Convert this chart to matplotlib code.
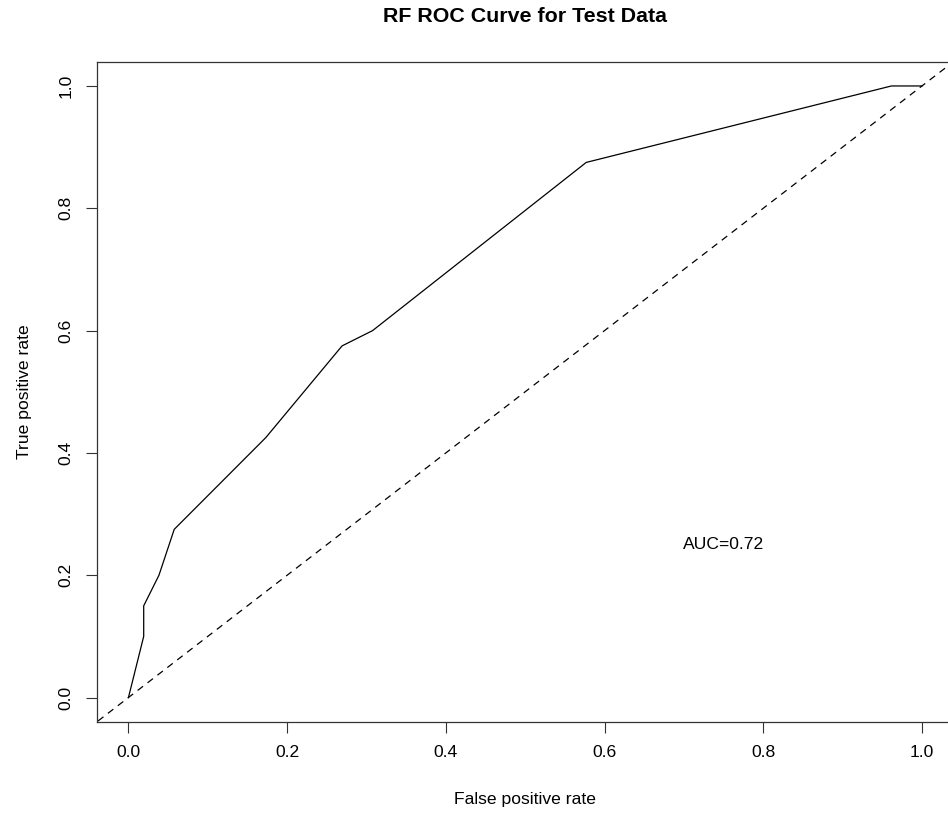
import matplotlib
matplotlib.use("Agg")
import matplotlib.pyplot as plt

# ROC curve vertices (false positive rate, true positive rate)
fpr = [0.0, 1/52, 1/52, 2/52, 3/52, 9/52, 14/52, 16/52, 30/52, 50/52, 1.0]
tpr = [0.0, 0.100, 0.150, 0.200, 0.275, 0.425, 0.575, 0.600, 0.875, 1.000, 1.000]
auc_label = "AUC=0.72"
ticks = [0.0, 0.2, 0.4, 0.6, 0.8, 1.0]
tick_labels = ["0.0", "0.2", "0.4", "0.6", "0.8", "1.0"]

plt.rcParams["font.family"] = ["Liberation Sans", "DejaVu Sans"]
FS = 12.6

fig = plt.figure(figsize=(9.48, 8.16), dpi=100)
ax = fig.add_axes([96.7 / 948, (816 - 722) / 816, 857 / 948, 660.5 / 816])

ax.plot(fpr, tpr, color="black", lw=0.9)
# reference diagonal, like abline(0, 1, lty=2)
ax.plot([-0.2, 1.2], [-0.2, 1.2], color="black", lw=0.9, ls=(0, (5.5, 4.5)))
ax.text(0.75, 0.25, auc_label, fontsize=FS, ha="center", va="center")

ax.set_xlim(-0.04, 1.04)
ax.set_ylim(-0.04, 1.04)
ax.set_xticks(ticks)
ax.set_xticklabels(tick_labels)
ax.set_yticks(ticks)
ax.set_yticklabels(tick_labels, rotation=90, va="center")
ax.tick_params(length=8, width=0.8, pad=8.6, labelsize=FS, color="#333333")
for s in ax.spines.values():
    s.set_linewidth(0.9)
    s.set_color("#333333")

ax.set_xlabel("False positive rate", fontsize=FS, va="center")
ax.xaxis.set_label_coords(0.5, -0.118)
ax.set_ylabel("True positive rate", fontsize=FS, va="center")
ax.yaxis.set_label_coords(-0.0848, 0.5)

fig.text(525 / 948, 1 - 17 / 816, "RF ROC Curve for Test Data",
         fontsize=15.4, fontweight="bold", ha="center", va="center")

fig.savefig("out.png", dpi=100)
